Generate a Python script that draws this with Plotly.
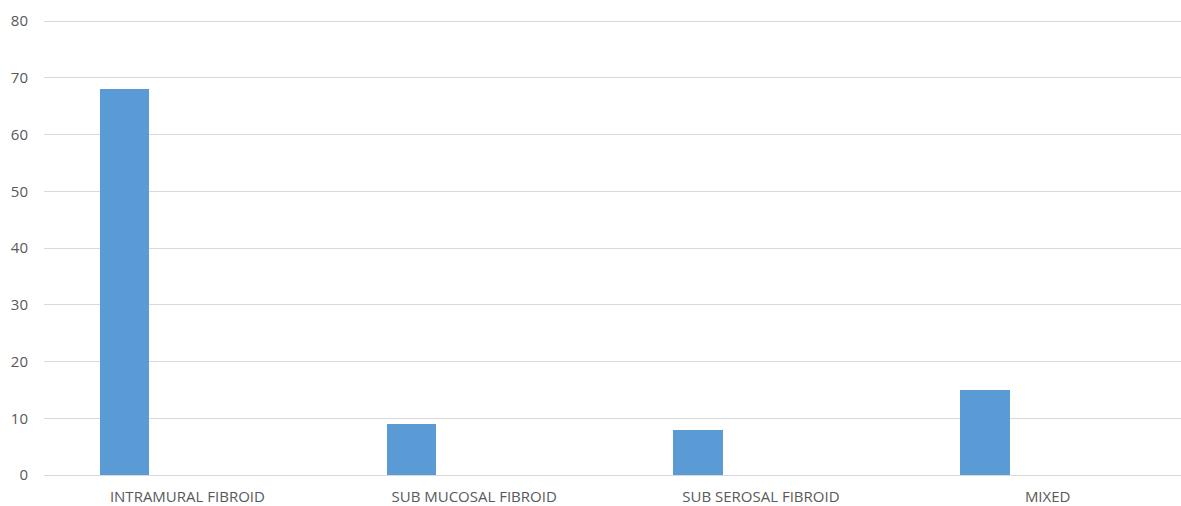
import plotly.graph_objects as go

categories = ["INTRAMURAL FIBROID", "SUB MUCOSAL FIBROID", "SUB SEROSAL FIBROID", "MIXED"]
values = [68, 9, 8, 15]
y_ticks = [0, 10, 20, 30, 40, 50, 60, 70, 80]

fig = go.Figure()
fig.add_trace(go.Bar(
    x=categories,
    y=values,
    marker=dict(color="#5B9BD5", line=dict(width=0)),
    width=0.172,
    offset=-0.305,
))

fig.update_layout(
    width=1181,
    height=506,
    margin=dict(l=44, r=0, t=20, b=29),
    paper_bgcolor="white",
    plot_bgcolor="white",
    showlegend=False,
    font=dict(family="Open Sans", size=15, color="#595959"),
    bargap=0,
)
fig.update_xaxes(
    type="category",
    range=[-0.5, 3.465],
    showgrid=False,
    showline=False,
    zeroline=False,
    ticks="",
    ticklabelstandoff=11,
    tickfont=dict(size=15, color="#595959"),
)
fig.update_yaxes(
    range=[0, 80.2],
    tickvals=y_ticks,
    showgrid=True,
    gridcolor="#D9D9D9",
    gridwidth=1,
    zeroline=True,
    zerolinecolor="#D9D9D9",
    zerolinewidth=1,
    showline=False,
    ticks="",
    ticklabelstandoff=15,
    tickfont=dict(size=15, color="#595959"),
)

fig.write_html("out.html")
